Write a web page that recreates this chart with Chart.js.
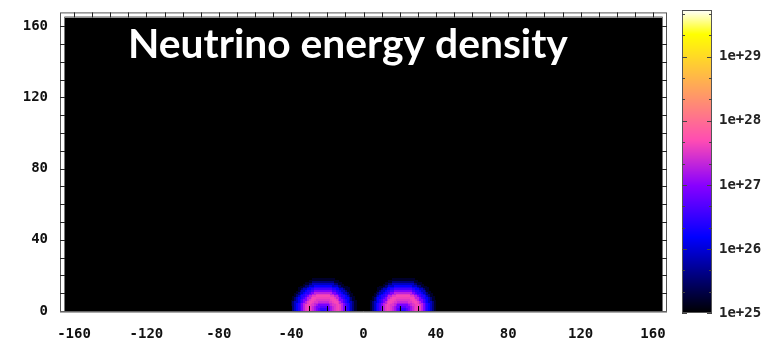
<!DOCTYPE html>
<html>
<head>
<meta charset="utf-8">
<script src="https://cdn.jsdelivr.net/npm/chart.js@4/dist/chart.umd.min.js"></script>
<style>
    html, body { margin: 0; padding: 0; background: #fff; }
</style>
</head>
<body>
<canvas id="grafico-densidade" width="766" height="339"></canvas>
<script>
// Rótulos dos eixos
const xTicks = [-160, -120, -80, -40, 0, 40, 80, 120, 160];
const yTicks = [0, 40, 80, 120, 160];
// Barra de cores (log10 da densidade)
const cbTickLogs = [25, 26, 27, 28, 29];
const cbTickLabels = ['1e+25', '1e+26', '1e+27', '1e+28', '1e+29'];
const cbMinLog = 25;
const cbMaxLog = 29.73;
// Centros das duas bolhas (x), ambas em y = 0
const blobCentersX = [-22, 22];
// Perfil radial: raio (unidades) -> log10 densidade
const radialRadius = [0, 1, 2, 3, 4, 5, 6, 7, 8, 9, 10, 11, 12, 13, 14, 15, 16, 17, 18];
const radialLog = [26.35, 26.4, 26.5, 26.7, 26.9, 27.15, 27.35, 27.5, 27.6, 27.65,
                   27.55, 27.3, 26.95, 26.6, 26.4, 26.2, 25.9, 25.55, 25.2];
const titulo = 'Neutrino energy density';

const fonteEixo = { family: 'DejaVu Sans Mono', size: 14, weight: 'bold' };

// Paleta gnuplot rgbformulae 30,31,32 (preto-azul-violeta-amarelo-branco)
function clamp(v) { return Math.min(1, Math.max(0, v)); }
function paleta(t) {
    t = clamp(t);
    const r = clamp(t / 0.32 - 0.78125);
    const g = clamp(2 * t - 0.84);
    let b;
    if (t < 0.25) b = 4 * t;
    else if (t < 0.42) b = 1;
    else if (t < 0.92) b = -2 * t + 1.84;
    else b = t / 0.08 - 11.5;
    b = clamp(b);
    return `rgb(${Math.round(r * 255)},${Math.round(g * 255)},${Math.round(b * 255)})`;
}
function corLog(v) { return paleta((v - cbMinLog) / (cbMaxLog - cbMinLog)); }

// Células do mapa de calor (1 x 1 unidade)
const celulas = [];
for (let x = -42; x < 42; x++) {
    for (let y = 0; y < 20; y++) {
        const cx = x + 0.5, cy = y + 0.5;
        let melhor = null;
        blobCentersX.forEach(bx => {
            const r = Math.round(Math.hypot(cx - bx, cy));
            const i = radialRadius.indexOf(r);
            if (i >= 0 && (melhor === null || radialLog[i] > melhor)) melhor = radialLog[i];
        });
        if (melhor !== null) celulas.push({ x: cx, y: cy, v: melhor });
    }
}

const mapaCalor = {
    id: 'mapaCalor',
    beforeDatasetsDraw(chart) {
        const { ctx, chartArea: a, scales: { x, y } } = chart;
        ctx.save();
        ctx.fillStyle = '#000';
        ctx.fillRect(a.left, a.top, a.right - a.left, a.bottom - a.top);
        ctx.beginPath();
        ctx.rect(a.left, a.top, a.right - a.left, a.bottom - a.top);
        ctx.clip();
        celulas.forEach(c => {
            const x0 = Math.floor(x.getPixelForValue(c.x - 0.5));
            const x1 = Math.ceil(x.getPixelForValue(c.x + 0.5));
            const y0 = Math.floor(y.getPixelForValue(c.y + 0.5));
            const y1 = Math.ceil(y.getPixelForValue(c.y - 0.5));
            ctx.fillStyle = corLog(c.v);
            ctx.fillRect(x0, y0, x1 - x0, y1 - y0);
        });
        ctx.restore();
    },
    afterDraw(chart) {
        const { ctx, chartArea: a, scales: { x, y } } = chart;
        ctx.save();
        // moldura com faixa branca
        const L = a.left - 5, T = a.top - 5, R = a.right + 5, B = a.bottom;
        ctx.fillStyle = '#fff';
        ctx.fillRect(L, T, 5, B - T);
        ctx.fillRect(L, T, R - L, 5);
        ctx.fillRect(a.right, T, 5, B - T);
        ctx.strokeStyle = '#555';
        ctx.lineWidth = 1;
        ctx.strokeRect(L + 0.5, T + 0.5, R - L - 1, B - T + 0.5);
        ctx.strokeStyle = '#777';
        ctx.beginPath();
        ctx.moveTo(a.left - 0.5, B); ctx.lineTo(a.left - 0.5, a.top - 0.5);
        ctx.lineTo(a.right + 0.5, a.top - 0.5); ctx.lineTo(a.right + 0.5, B);
        ctx.stroke();
        // marcas a cada 10 unidades
        ctx.strokeStyle = '#222';
        ctx.beginPath();
        for (let v = -160; v <= 160; v += 10) {
            const px = Math.round(x.getPixelForValue(v)) + 0.5;
            ctx.moveTo(px, T); ctx.lineTo(px, a.top);
        }
        for (let v = 10; v <= 160; v += 10) {
            const py = Math.round(y.getPixelForValue(v)) + 0.5;
            ctx.moveTo(L, py); ctx.lineTo(a.left, py);
            ctx.moveTo(a.right, py); ctx.lineTo(R, py);
        }
        ctx.stroke();
        ctx.strokeStyle = '#000';
        ctx.beginPath();
        for (let v = -160; v <= 160; v += 10) {
            const px = Math.round(x.getPixelForValue(v)) + 0.5;
            ctx.moveTo(px, a.bottom); ctx.lineTo(px, a.bottom - 5);
        }
        ctx.stroke();
        ctx.strokeStyle = '#666';
        ctx.beginPath();
        ctx.moveTo(L, a.bottom + 0.5); ctx.lineTo(R, a.bottom + 0.5);
        ctx.stroke();

        // título
        let tam = 34;
        ctx.font = `bold ${tam}px Lato`;
        tam = tam * 440 / ctx.measureText(titulo).width;
        ctx.font = `bold ${tam}px Lato`;
        ctx.fillStyle = '#fff';
        ctx.textBaseline = 'alphabetic';
        ctx.textAlign = 'left';
        ctx.fillText(titulo, 128, 58);

        // barra de cores
        const cbL = 682, cbR = 712, cbTop = 10, cbBot = 313;
        const pxDec = (cbBot - cbTop) / (cbMaxLog - cbMinLog);
        for (let py = cbTop; py < cbBot; py++) {
            ctx.fillStyle = paleta((cbBot - py - 0.5) / (cbBot - cbTop));
            ctx.fillRect(cbL, py, cbR - cbL, 1);
        }
        ctx.strokeStyle = '#555';
        ctx.strokeRect(cbL + 0.5, cbTop + 0.5, cbR - cbL - 1, cbBot - cbTop - 1);
        ctx.strokeStyle = '#444';
        ctx.beginPath();
        for (let v = cbMinLog; v <= cbMaxLog; v += 1 / 3) {
            const py = Math.round(cbBot - (v - cbMinLog) * pxDec) + 0.5;
            const maior = Math.abs(v - Math.round(v)) < 0.01;
            const len = maior ? 5 : 3;
            ctx.moveTo(cbL, py); ctx.lineTo(cbL + len, py);
            ctx.moveTo(cbR, py); ctx.lineTo(cbR - len, py);
        }
        ctx.stroke();
        ctx.font = `bold ${fonteEixo.size}px "${fonteEixo.family}"`;
        ctx.fillStyle = '#222';
        ctx.textBaseline = 'middle';
        cbTickLogs.forEach((v, i) => {
            const py = cbBot - (v - cbMinLog) * pxDec;
            ctx.fillText(cbTickLabels[i], 719, py);
        });
        ctx.restore();
    }
};

new Chart(document.getElementById('grafico-densidade').getContext('2d'), {
    type: 'scatter',
    data: {
        datasets: [{
            data: celulas,
            pointRadius: 0,
            pointHoverRadius: 0
        }]
    },
    options: {
        responsive: false,
        animation: false,
        devicePixelRatio: 1,
        layout: { padding: { top: 14, right: 104, left: 0, bottom: 0 } },
        plugins: { legend: { display: false }, tooltip: { enabled: false } },
        scales: {
            x: {
                type: 'linear',
                min: -165,
                max: 165,
                afterBuildTicks: s => { s.ticks = xTicks.map(v => ({ value: v })); },
                afterFit: s => { s.height = 28; },
                grid: { display: false },
                border: { display: false },
                ticks: { font: fonteEixo, color: '#111', padding: 7, maxRotation: 0, autoSkip: false }
            },
            y: {
                type: 'linear',
                min: 0,
                max: 165,
                afterBuildTicks: s => { s.ticks = yTicks.map(v => ({ value: v })); },
                afterFit: s => { s.width = 65; },
                grid: { display: false },
                border: { display: false },
                ticks: { font: fonteEixo, color: '#111', padding: 9, autoSkip: false }
            }
        }
    },
    plugins: [mapaCalor]
});
</script>
</body>
</html>
